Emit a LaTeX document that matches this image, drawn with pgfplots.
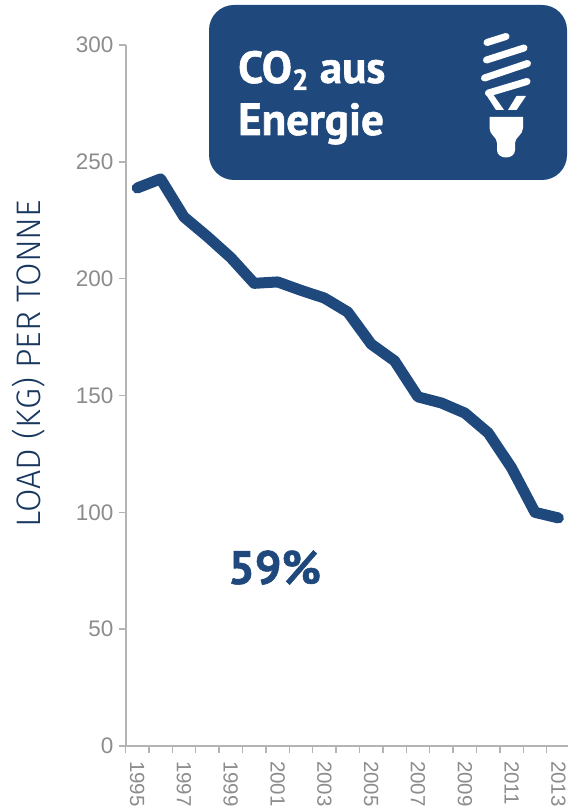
\documentclass[border=0pt]{standalone}
\usepackage{fontspec}
\usepackage{pgfplots}
\pgfplotsset{compat=1.18}
\setmainfont{Liberation Sans}
\newfontfamily\din[BoldFeatures={FakeBold=1.2}]{PT Sans}
\newfontfamily\thin{Fira Sans Light}
\definecolor{navy}{HTML}{1F497D}
\definecolor{titleink}{HTML}{17375E}
\definecolor{axisgrey}{HTML}{B4B4B4}
\definecolor{ticktext}{HTML}{8C8C8C}
\begin{document}
\begin{tikzpicture}[x=1pt,y=1pt]
\path[use as bounding box] (0,0) rectangle (568,809);
\begin{axis}[
  at={(125.5pt,63pt)}, anchor=south west,
  scale only axis, width=442.5pt, height=701pt,
  xmin=1994.5, xmax=2013.41, ymin=0, ymax=300,
  axis x line=bottom, axis y line=left,
  axis line style={axisgrey, line width=2pt, -},
  tick align=outside,
  ytick={0,50,...,300},
  xtick={1995,1997,...,2013},
  minor xtick={1994.5,1995.5,...,2013},
  major tick length=6.5pt, minor tick length=6.5pt,
  major tick style={axisgrey, line width=1.5pt},
  minor tick style={axisgrey, line width=1.5pt},
  major x tick style={draw=none},
  xticklabel style={rotate=-90, anchor=west, font=\fontsize{20.5}{20.5}\selectfont, text=ticktext, xshift=5pt},
  yticklabel style={font=\fontsize{22.5}{22.5}\selectfont, text=ticktext, xshift=-2pt},
  /pgf/number format/assume math mode=true,
  /pgf/number format/1000 sep={},
  clip=false,
]
\addplot[navy, line width=11pt, line cap=round, line join=round] coordinates {
 (1995,238.8) (1996,242.7) (1997,226.4) (1998,218) (1999,209) (2000,198)
 (2001,198.6) (2002,195) (2003,191.7) (2004,185.7) (2005,172) (2006,164.8)
 (2007,149.4) (2008,146.8) (2009,142.5) (2010,134) (2011,119) (2012,100) (2013,97.6)};
\end{axis}
\begin{scope}[yshift=809pt, y=-1pt]
  % axis title
  \node[rotate=90, anchor=center, text=titleink] at (29,363.5) {\thin\fontsize{34}{34}\selectfont LOAD (KG) PER TONNE};
  % panel
  \fill[navy, rounded corners=25pt] (209,5) rectangle (567,180);
  \node[anchor=base west, text=white, inner sep=0pt] at (238,83) {\din\bfseries\fontsize{45}{45}\selectfont CO\raisebox{-7pt}{\fontsize{29}{29}\selectfont 2} aus};
  \node[anchor=base west, text=white, inner sep=0pt] at (238,135) {\din\bfseries\fontsize{45}{45}\selectfont Energie};
  % percentage
  \node[anchor=base west, text=navy, inner sep=0pt] at (228,584) {\din\bfseries\fontsize{47}{47}\selectfont 59\%};
  % light bulb icon
  \begin{scope}[white, line cap=round, line width=7pt]
    \draw (487,42.5) -- (506,36.5);
    \draw (486.5,60) -- (524,48);
    \draw (484.5,78) -- (527.5,63.5);
    \draw (488.5,93) -- (527,81.5);
  \end{scope}
  \fill[white] (485,93) -- (490,90) -- (504,110) -- (496,110) -- cycle;
  \fill[white] (516.5,96) -- (526,96) -- (516.5,110) -- (508,110) -- cycle;
  \fill[white] (489.5,117) -- (523,117) -- (523,128)
     .. controls (523,135) and (515,137) .. (515,143)
     -- (515,150) .. controls (515,160) and (497,160) .. (497,150)
     -- (497,143) .. controls (497,137) and (489.5,135) .. (489.5,128) -- cycle;
\end{scope}
\end{tikzpicture}
\end{document}
